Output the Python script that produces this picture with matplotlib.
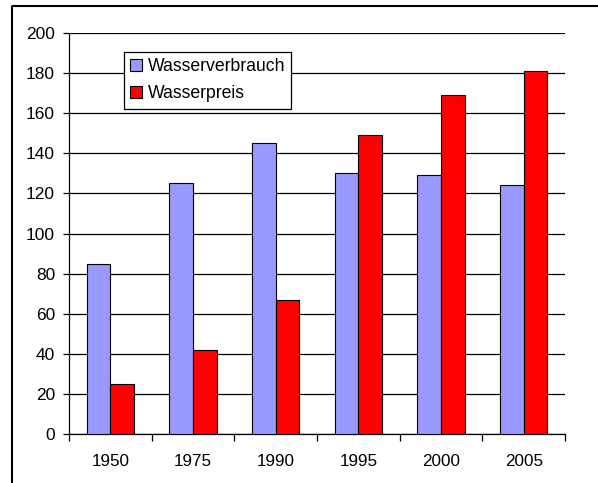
import matplotlib
matplotlib.use('Agg')
import matplotlib.pyplot as plt
from matplotlib.lines import Line2D
import numpy as np

years = ['1950', '1975', '1990', '1995', '2000', '2005']
verbrauch = [85, 125, 145, 130, 129, 124]
preis = [25, 42, 67, 149, 169, 181]

plt.rcParams['font.family'] = ['Liberation Sans', 'DejaVu Sans']

c_blue = '#9999FF'
c_red = '#FF0000'

W, H = 598, 483
fig = plt.figure(figsize=(W / 100, H / 100), dpi=100)
ax = fig.add_axes([69 / W, 1 - 434 / H, (565 - 69) / W, (434 - 33) / H])

x = np.arange(len(years))
bw = 1 / 3.5
ax.bar(x - bw / 2, verbrauch, width=bw, color=c_blue, edgecolor='black',
       linewidth=0.8, label='Wasserverbrauch', zorder=3)
ax.bar(x + bw / 2, preis, width=bw, color=c_red, edgecolor='black',
       linewidth=0.8, label='Wasserpreis', zorder=3)

ax.set_xlim(-0.5, len(years) - 0.5)
ax.set_ylim(0, 200)
ax.set_yticks(range(0, 201, 20))
ax.yaxis.grid(True, color='black', linewidth=0.9, zorder=0)
ax.set_axisbelow(True)

ax.set_xticks(x)
ax.set_xticklabels(years)
ax.set_xticks(np.arange(-0.5, len(years) + 0.5, 1), minor=True)
ax.tick_params(axis='x', which='major', length=0, pad=14.5, labelsize=12.3)
ax.tick_params(axis='x', which='minor', length=5, width=0.9, direction='out')
ax.tick_params(axis='y', length=4.5, width=0.9, direction='out', pad=5.5, labelsize=12.5)

for s in ['top', 'right']:
    ax.spines[s].set_visible(False)
ax.spines['left'].set_linewidth(0.9)
ax.spines['bottom'].set_linewidth(0.9)

leg = ax.legend(loc='upper left', bbox_to_anchor=(124 / W, 1 - 51.7 / H),
                bbox_transform=fig.transFigure, borderaxespad=0,
                fancybox=False, edgecolor='black', framealpha=1,
                fontsize=12.7, handlelength=0.65, handleheight=0.65,
                handletextpad=0.35, borderpad=0.35, labelspacing=0.6)
leg.get_frame().set_linewidth(0.9)

# outer chart border (only top and left are visible in the crop)
fig.add_artist(Line2D([12 / W, 12 / W, 1], [0, 1 - 6 / H, 1 - 6 / H],
                      transform=fig.transFigure, color='black', linewidth=1.5))

fig.savefig('out.png', dpi=100)
